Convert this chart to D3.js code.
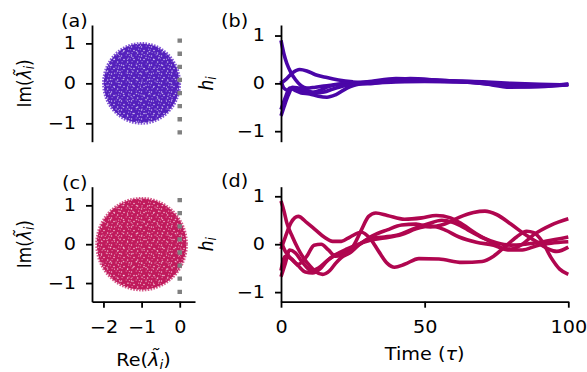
<!DOCTYPE html>
<html>
<head>
<meta charset="utf-8">
<script src="https://cdn.jsdelivr.net/npm/d3@7"></script>
<style>
  html, body { margin: 0; padding: 0; background: #fff; }
  svg { display: block; font-family: "DejaVu Sans", sans-serif; }
  .axis path, .axis line { stroke: #000; stroke-width: 1.8; }
  .axis text { font-size: 17px; fill: #000; }
</style>
</head>
<body>
<svg id="chart" width="587" height="372"></svg>
<script>
// ---- data -------------------------------------------------------------
// eigenvalue clouds (support disk of the rescaled spectrum)
const diskCenterRe = [-1.0, -1.0];          // (a), (c)
const diskRadius   = [1.02, 1.20];          // (a), (c)
// marginal line Re = 0, drawn over this Im range
const marginRe = 0;
const marginIm = [-1.28, 1.2];

const reTicks   = [-2, -1, 0];
const imTicks   = [-1, 0, 1];
const timeTicks = [0, 50, 100];
const hTicks    = [-1, 0, 1];

// unit activations h_i(t), stable network (b)
const stableTraces = [
  [[0,0.9],[1,0.62],[2,0.42],[3.5,0.22],[5,0.08],[7,-0.05],[9,-0.1],[12,-0.08],[16,-0.05],[20,-0.02],[25,0.0],[30,0.02],[40,0.08],[50,0.07],[60,0.05],[70,0.03],[80,0.0],[90,-0.02],[100,-0.03]],
  [[0,0.0],[2,0.1],[4,0.22],[6.5,0.29],[9,0.26],[12,0.18],[16,0.12],[20,0.07],[25,0.03],[30,0.01],[40,0.03],[50,0.04],[60,0.03],[70,0.01],[80,-0.05],[90,-0.05],[100,-0.02]],
  [[0,-0.68],[1,-0.5],[2.5,-0.25],[4,-0.1],[6,-0.12],[8,-0.18],[10,-0.2],[13,-0.16],[16,-0.08],[20,-0.02],[25,0.01],[30,0.03],[40,0.1],[50,0.08],[60,0.05],[70,0.02],[80,-0.03],[90,-0.06],[100,-0.03]],
  [[0,-0.55],[1.5,-0.3],[3,-0.1],[5,-0.15],[7,-0.2],[10,-0.22],[13,-0.27],[16,-0.29],[19,-0.24],[23,-0.1],[27,-0.02],[32,0.0],[40,0.05],[50,0.05],[60,0.04],[70,0.0],[80,-0.08],[90,-0.07],[100,-0.02]],
  [[0,0.05],[1,-0.1],[2.5,-0.15],[4,-0.08],[6,-0.1],[9,-0.15],[12,-0.2],[15,-0.18],[18,-0.12],[22,-0.05],[27,0.0],[35,0.05],[45,0.1],[55,0.06],[65,0.03],[75,-0.03],[85,-0.07],[95,-0.04],[100,-0.02]]
];

// unit activations h_i(t), chaotic network (d)
const chaoticTraces = [
  [[0,0.9],[1,0.7],[2,0.45],[4,0.15],[6,-0.1],[8,-0.3],[10,-0.45],[12,-0.57],[14.5,-0.63],[17,-0.55],[19,-0.4],[21,-0.28],[24,-0.18],[27,-0.02],[31,0.12],[36,0.15],[41,0.2],[46,0.32],[51,0.42],[56,0.5],[60,0.45],[65,0.3],[70,0.14],[75,0.03],[80,-0.02],[85,0.0],[92,0.06],[100,0.15]],
  [[0,-0.1],[1.5,0.15],[3.5,0.45],[6,0.58],[9,0.45],[12,0.3],[15,0.15],[18,0.06],[21,0.06],[24,0.15],[28,0.25],[31,0.12],[34,-0.15],[37,-0.4],[39.5,-0.48],[43,-0.42],[48,-0.3],[55,-0.31],[63,-0.38],[70,-0.36],[74,-0.25],[78,-0.05],[82,0.15],[85.5,0.27],[88,0.24],[91,0.05],[94,-0.28],[97,-0.52],[100,-0.63]],
  [[0,-0.68],[1.5,-0.4],[3,-0.12],[5,-0.18],[7.5,-0.38],[10.5,-0.55],[13,-0.5],[16,-0.35],[19,-0.22],[22,-0.18],[25,-0.05],[28,0.3],[30.5,0.58],[33,0.65],[37,0.6],[43,0.52],[49,0.55],[54,0.6],[59,0.55],[63,0.42],[68,0.22],[73,0.05],[77,-0.08],[80,-0.1],[84,0.0],[88,0.2],[94,0.4],[100,0.53]],
  [[0,-0.55],[1.5,-0.25],[3.5,-0.3],[6,-0.42],[9,-0.25],[11.5,-0.02],[14,0.0],[16.5,-0.12],[19,-0.25],[23,-0.2],[27,-0.02],[32,0.18],[37,0.3],[42,0.4],[47,0.42],[52,0.36],[57,0.42],[62,0.56],[67,0.66],[71,0.69],[75,0.62],[80,0.42],[85,0.2],[89,0.05],[93,-0.1],[96,-0.15],[100,-0.06]],
  [[0,0.05],[1.5,-0.15],[3.5,-0.3],[6,-0.45],[8.5,-0.58],[11,-0.6],[13.5,-0.52],[16,-0.35],[19,-0.22],[23,-0.1],[27,0.0],[31,0.08],[36,0.13],[42,0.2],[47,0.32],[52,0.38],[57,0.3],[62,0.15],[68,0.04],[74,-0.02],[79,-0.12],[84,-0.12],[89,-0.03],[94,0.02],[100,0.05]]
];

// ---- styling ----------------------------------------------------------
const stableColor  = "#4a06a8";
const chaoticColor = "#b0064f";
const diskColors = [
  { base: "#5420bc", light: "#b39be8", edge: "#6a34cc" },
  { base: "#c01a5c", light: "#eea2c0", edge: "#cc3a72" }
];
const TEXT_SX = 1.13;   // horizontal widening of the lettering

const svg = d3.select("#chart");
const defs = svg.append("defs");

// widen a horizontal text about its own anchor point
function widen(sel) {
  sel.each(function () {
    const t = d3.select(this);
    const x = +t.attr("x") || 0, y = +t.attr("y") || 0;
    t.attr("x", 0).attr("y", 0)
     .attr("transform", `translate(${x},${y}) scale(${TEXT_SX},1)`);
  });
}

// speckle textures for the dense eigenvalue clouds: a base tile plus a
// sparser overlay tile of a different period, so the grain looks irregular
const speckles = [
  [1.5, 2.0, 0.75, "w"], [6.2, 1.0, 0.6, "l"], [4.0, 5.5, 0.8, "w"],
  [8.6, 4.2, 0.6, "l"], [2.1, 7.6, 0.6, "l"], [7.6, 7.9, 0.75, "w"],
  [9.3, 1.6, 0.5, "w"], [0.4, 4.8, 0.5, "l"]
];
const overlaySpeckles = [
  [3.0, 1.5, 0.7], [10.5, 3.2, 0.6], [6.5, 9.5, 0.8], [12.0, 11.0, 0.55], [1.2, 12.5, 0.6]
];
diskColors.forEach((c, i) => {
  const p = defs.append("pattern")
    .attr("id", "speck" + i)
    .attr("patternUnits", "userSpaceOnUse")
    .attr("width", 10).attr("height", 9);
  p.append("rect").attr("width", 10).attr("height", 9).attr("fill", c.base);
  speckles.forEach(s => {
    p.append("circle").attr("cx", s[0]).attr("cy", s[1]).attr("r", s[2])
      .attr("fill", s[3] === "w" ? "#ffffff" : c.light)
      .attr("opacity", s[3] === "w" ? 0.7 : 0.85);
  });
  const q = defs.append("pattern")
    .attr("id", "speckB" + i)
    .attr("patternUnits", "userSpaceOnUse")
    .attr("width", 13).attr("height", 14);
  overlaySpeckles.forEach(s => {
    q.append("circle").attr("cx", s[0]).attr("cy", s[1]).attr("r", s[2])
      .attr("fill", "#ffffff").attr("opacity", 0.6);
  });
});

// ---- layout -----------------------------------------------------------
const eigX = [92, 195];
const timeX = [281, 568.3];
const rowY = [[25, 141.7], [186.7, 301.7]];

const xRe = d3.scaleLinear().domain([-2.3, 0.4]).range(eigX);
const yIm = [
  d3.scaleLinear().domain([-1.46, 1.46]).range([rowY[0][1], rowY[0][0]]),
  d3.scaleLinear().domain([-1.48, 1.48]).range([rowY[1][1], rowY[1][0]])
];
const xT = d3.scaleLinear().domain([0, 100]).range(timeX);
const yH = [
  d3.scaleLinear().domain([-1.22, 1.22]).range([rowY[0][1], rowY[0][0]]),
  d3.scaleLinear().domain([-1.2, 1.2]).range([rowY[1][1], rowY[1][0]])
];

const intFmt = d3.format("d");

function leftAxis(g, scale, ticks) {
  g.attr("class", "axis")
    .call(d3.axisLeft(scale).tickValues(ticks).tickFormat(intFmt)
      .tickSize(6).tickPadding(10).tickSizeOuter(0))
    .call(a => a.selectAll("text").attr("font-family", "DejaVu Sans").call(widen));
}
function bottomAxis(g, scale, ticks) {
  g.attr("class", "axis")
    .call(d3.axisBottom(scale).tickValues(ticks).tickFormat(intFmt)
      .tickSize(6).tickPadding(13).tickSizeOuter(0))
    .call(a => a.selectAll("text").attr("font-family", "DejaVu Sans").call(widen));
}

// ---- spectrum panels (a), (c) -----------------------------------------
[0, 1].forEach(r => {
  const y = yIm[r];
  const g = svg.append("g");
  const cx = xRe(diskCenterRe[r]);
  const cy = y(0);
  const rx = xRe(diskCenterRe[r] + diskRadius[r]) - cx;
  const ry = cy - y(diskRadius[r]);

  // ragged rim of the cloud
  g.append("ellipse")
    .attr("cx", cx).attr("cy", cy).attr("rx", rx - 0.6).attr("ry", ry - 0.6)
    .attr("fill", "none").attr("stroke", diskColors[r].edge)
    .attr("stroke-width", 2.4).attr("stroke-dasharray", "1.6 1.3").attr("opacity", 0.85);
  g.append("ellipse")
    .attr("cx", cx).attr("cy", cy).attr("rx", rx - 1).attr("ry", ry - 1)
    .attr("fill", "url(#speck" + r + ")");
  g.append("ellipse")
    .attr("cx", cx).attr("cy", cy).attr("rx", rx - 1.5).attr("ry", ry - 1.5)
    .attr("fill", "url(#speckB" + r + ")");

  // marginal stability line Re = 0
  g.append("line")
    .attr("x1", xRe(marginRe)).attr("x2", xRe(marginRe))
    .attr("y1", y(marginIm[0])).attr("y2", y(marginIm[1]))
    .attr("stroke", "#808080").attr("stroke-width", 4.5)
    .attr("stroke-dasharray", "4.3 8.8");

  svg.append("g").attr("transform", `translate(${eigX[0]},0)`)
    .call(leftAxis, y, imTicks);
});
svg.append("g").attr("transform", `translate(0,${rowY[1][1]})`)
  .call(bottomAxis, xRe, reTicks);

// ---- time-series panels (b), (d) --------------------------------------
const lineGen = (y) => d3.line()
  .x(d => xT(d[0])).y(d => y(d[1]))
  .curve(d3.curveMonotoneX);

[[stableTraces, stableColor], [chaoticTraces, chaoticColor]].forEach(([traces, col], r) => {
  svg.append("g").selectAll("path")
    .data(traces).join("path")
    .attr("d", lineGen(yH[r]))
    .attr("fill", "none").attr("stroke", col)
    .attr("stroke-width", 3.6).attr("stroke-linejoin", "round").attr("stroke-linecap", "butt");
  svg.append("g").attr("transform", `translate(${timeX[0]},0)`)
    .call(leftAxis, yH[r], hTicks);
});
svg.append("g").attr("transform", `translate(0,${rowY[1][1]})`)
  .call(bottomAxis, xT, timeTicks);

// ---- labels -----------------------------------------------------------
const txt = (x, y) => svg.append("text").attr("x", x).attr("y", y)
  .attr("font-size", 17).attr("fill", "#000");

txt(61, 27).text("(a)").call(widen);
txt(221, 27).text("(b)").call(widen);
txt(62, 189).text("(c)").call(widen);
txt(221, 187).text("(d)").call(widen);

function eigLabel(sel, part) {
  sel.append("tspan").text(part + "(");
  sel.append("tspan").attr("font-style", "italic").text("\u03bb\u0303");
  sel.append("tspan").attr("font-style", "italic").attr("font-size", 12).attr("dy", 3).text("i");
  sel.append("tspan").attr("dy", -3).text(")");
}
function hLabel(sel) {
  sel.append("tspan").attr("font-style", "italic").text("h");
  sel.append("tspan").attr("font-style", "italic").attr("font-size", 12).attr("dy", 3).text("i");
}

[0, 1].forEach(r => {
  const cy = (rowY[r][0] + rowY[r][1]) / 2;
  txt(0, 0).attr("text-anchor", "middle")
    .attr("transform", `translate(31,${cy}) rotate(-90) scale(1,${TEXT_SX})`)
    .call(eigLabel, "Im");
  txt(0, 0).attr("text-anchor", "middle")
    .attr("transform", `translate(213,${cy}) rotate(-90) scale(1,${TEXT_SX})`)
    .call(hLabel);
});

txt((eigX[0] + eigX[1]) / 2, 365.5).attr("text-anchor", "middle")
  .call(eigLabel, "Re").call(widen);
const tl = txt((timeX[0] + timeX[1]) / 2, 360).attr("text-anchor", "middle");
tl.append("tspan").text("Time (");
tl.append("tspan").attr("font-style", "italic").text("\u03c4");
tl.append("tspan").text(")");
tl.call(widen);
</script>
</body>
</html>
